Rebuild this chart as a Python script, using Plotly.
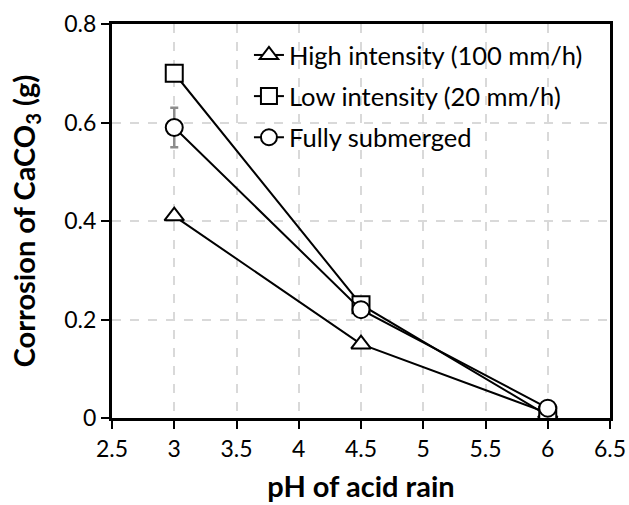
import plotly.graph_objects as go

ph = [3, 4.5, 6]
high = [0.41, 0.15, 0.01]
low = [0.70, 0.23, 0.005]
full = [0.59, 0.22, 0.02]
full_err = [0.04, 0, 0]

names = ["High intensity (100 mm/h)", "Low intensity (20 mm/h)", "Fully submerged"]
symbols = ["triangle-up", "square", "circle"]

fig = go.Figure()
for i, (name, ys, sym) in enumerate(zip(names, [high, low, full], symbols)):
    err = None
    if ys is full:
        err = dict(type="data", array=full_err, color="#8c8c8c", thickness=2.5, width=4)
    fig.add_trace(go.Scatter(
        x=ph, y=ys, name=name, mode="lines+markers", legendgroup=f"g{i}",
        line=dict(color="black", width=2),
        marker=dict(symbol=sym, size=17, color="white", line=dict(color="black", width=2)),
        error_y=err,
    ))

yt = [0, 0.2, 0.4, 0.6, 0.8]
fig.update_layout(
    width=629, height=505,
    margin=dict(l=112, r=19, t=24, b=87),
    paper_bgcolor="white", plot_bgcolor="white",
    font=dict(family="Lato, Carlito, sans-serif", size=23, color="black"),
    showlegend=True,
    legend=dict(x=0.275, y=0.98, xanchor="left", yanchor="top", bgcolor="rgba(0,0,0,0)",
                font=dict(size=25.5), itemwidth=30, traceorder="grouped", tracegroupgap=5),
    xaxis=dict(range=[2.5, 6.5], tickvals=[2.5, 3, 3.5, 4, 4.5, 5, 5.5, 6, 6.5],
               ticktext=["2.5", "3", "3.5", "4", "4.5", "5", "5.5", "6", "6.5"],
               showline=True, linecolor="black", linewidth=3, mirror=True,
               ticks="outside", ticklen=8, tickwidth=2, tickcolor="black",
               showgrid=True, gridcolor="#d9d9d9", griddash="dash", gridwidth=1.5,
               zeroline=False, tickfont=dict(size=23), automargin=False,
               title=dict(text="<b>pH of acid rain</b>", font=dict(size=29), standoff=17)),
    yaxis=dict(range=[0, 0.8], tickvals=yt, ticktext=["0", "0.2", "0.4", "0.6", "0.8"],
               showline=True, linecolor="black", linewidth=3, mirror=True,
               ticks="outside", ticklen=8, tickwidth=2, tickcolor="black",
               showgrid=True, gridcolor="#d9d9d9", griddash="dash", gridwidth=1.5,
               zeroline=False, tickfont=dict(size=23), automargin=False,
               title=dict(text="<b>Corrosion of CaCO<sub>3</sub> (g)</b>", font=dict(size=29), standoff=21)),
)
fig.write_html("out.html")
